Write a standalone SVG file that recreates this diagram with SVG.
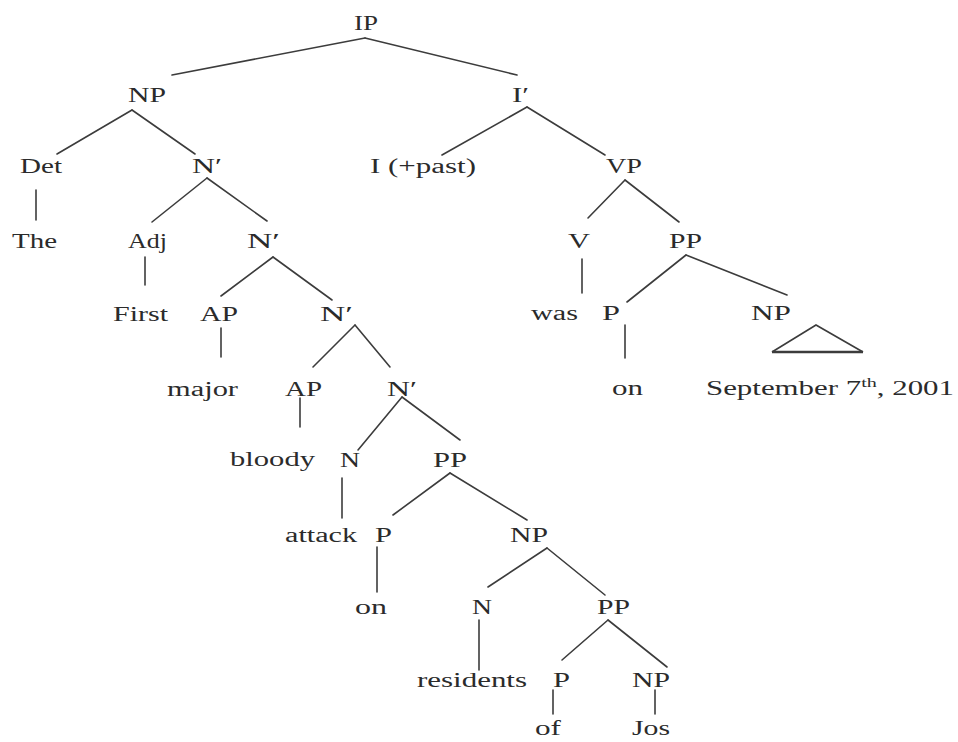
<svg xmlns="http://www.w3.org/2000/svg" width="958" height="742" viewBox="0 0 958 742">
<style>
  text { font-family: "Liberation Serif", "Times New Roman", serif; font-size: 20px; fill: #2b2b2b; }
  .e { stroke: #3c3c3c; stroke-width: 1.6; fill: none; stroke-linecap: round; }
  .tri { stroke: #3c3c3c; stroke-width: 1.6; fill: none; }
  .base { stroke: #3c3c3c; stroke-width: 2.6; }
</style>
<rect width="958" height="742" fill="#ffffff"/>
<g id="connectors">
  <line class="e" x1="365" y1="38" x2="172" y2="75"/>
  <line class="e" x1="365" y1="38" x2="517" y2="75"/>
  <line class="e" x1="132" y1="110" x2="57" y2="154"/>
  <line class="e" x1="132" y1="110" x2="195" y2="154"/>
  <line class="e" x1="527" y1="107" x2="442" y2="155"/>
  <line class="e" x1="527" y1="107" x2="605" y2="155"/>
  <line class="e" x1="36" y1="190" x2="36" y2="220"/>
  <line class="e" x1="207" y1="178" x2="152" y2="222"/>
  <line class="e" x1="207" y1="178" x2="267" y2="221"/>
  <line class="e" x1="625" y1="180" x2="588" y2="218"/>
  <line class="e" x1="625" y1="180" x2="679" y2="222"/>
  <line class="e" x1="145" y1="257" x2="145" y2="285"/>
  <line class="e" x1="273" y1="257" x2="221" y2="296"/>
  <line class="e" x1="273" y1="257" x2="332" y2="300"/>
  <line class="e" x1="582" y1="259" x2="582" y2="293"/>
  <line class="e" x1="686" y1="255" x2="627" y2="302"/>
  <line class="e" x1="686" y1="255" x2="787" y2="295"/>
  <line class="e" x1="221" y1="328" x2="221" y2="357"/>
  <line class="e" x1="355" y1="325" x2="313" y2="367"/>
  <line class="e" x1="355" y1="325" x2="390" y2="367"/>
  <line class="e" x1="625" y1="325" x2="625" y2="358"/>
  <polyline class="tri" points="772,352 816,325 863,352"/>
  <line class="base" x1="772" y1="352" x2="863" y2="352"/>
  <line class="e" x1="300" y1="398" x2="300" y2="427"/>
  <line class="e" x1="402" y1="397" x2="358" y2="450"/>
  <line class="e" x1="402" y1="397" x2="460" y2="440"/>
  <line class="e" x1="342" y1="478" x2="342" y2="518"/>
  <line class="e" x1="450" y1="473" x2="393" y2="515"/>
  <line class="e" x1="450" y1="473" x2="527" y2="520"/>
  <line class="e" x1="377" y1="547" x2="377" y2="592"/>
  <line class="e" x1="547" y1="548" x2="488" y2="587"/>
  <line class="e" x1="547" y1="548" x2="605" y2="595"/>
  <line class="e" x1="479" y1="620" x2="479" y2="670"/>
  <line class="e" x1="608" y1="620" x2="562" y2="660"/>
  <line class="e" x1="608" y1="620" x2="667" y2="667"/>
  <line class="e" x1="553" y1="690" x2="553" y2="714"/>
  <line class="e" x1="655" y1="690" x2="655" y2="714"/>
</g>
<g id="n-IP"><text x="354" y="30" textLength="24" lengthAdjust="spacingAndGlyphs">IP</text></g>
<g id="n-NP1"><text x="128" y="102" textLength="38" lengthAdjust="spacingAndGlyphs">NP</text></g>
<g id="n-Ibar"><text x="512" y="102" textLength="17" lengthAdjust="spacingAndGlyphs">I′</text></g>
<g id="n-Det"><text x="20" y="173" textLength="42" lengthAdjust="spacingAndGlyphs">Det</text></g>
<g id="n-Nbar1"><text x="192" y="173" textLength="30" lengthAdjust="spacingAndGlyphs">N′</text></g>
<g id="n-I"><text x="370" y="173" textLength="106" lengthAdjust="spacingAndGlyphs">I (+past)</text></g>
<g id="n-VP"><text x="606" y="173" textLength="36" lengthAdjust="spacingAndGlyphs">VP</text></g>
<g id="n-The"><text x="12" y="248" textLength="45" lengthAdjust="spacingAndGlyphs">The</text></g>
<g id="n-Adj"><text x="128" y="248" textLength="39" lengthAdjust="spacingAndGlyphs">Adj</text></g>
<g id="n-Nbar2"><text x="247" y="248" textLength="33" lengthAdjust="spacingAndGlyphs">N′</text></g>
<g id="n-V"><text x="568" y="248" textLength="22" lengthAdjust="spacingAndGlyphs">V</text></g>
<g id="n-PP1"><text x="669" y="248" textLength="33" lengthAdjust="spacingAndGlyphs">PP</text></g>
<g id="n-First"><text x="113" y="321" textLength="55" lengthAdjust="spacingAndGlyphs">First</text></g>
<g id="n-AP1"><text x="200" y="321" textLength="38" lengthAdjust="spacingAndGlyphs">AP</text></g>
<g id="n-Nbar3"><text x="320" y="321" textLength="33" lengthAdjust="spacingAndGlyphs">N′</text></g>
<g id="n-was"><text x="531" y="320" textLength="47" lengthAdjust="spacingAndGlyphs">was</text></g>
<g id="n-P1"><text x="602" y="320" textLength="18" lengthAdjust="spacingAndGlyphs">P</text></g>
<g id="n-NP2"><text x="751" y="320" textLength="40" lengthAdjust="spacingAndGlyphs">NP</text></g>
<g id="n-major"><text x="167" y="396" textLength="71" lengthAdjust="spacingAndGlyphs">major</text></g>
<g id="n-AP2"><text x="285" y="396" textLength="37" lengthAdjust="spacingAndGlyphs">AP</text></g>
<g id="n-Nbar4"><text x="387" y="396" textLength="30" lengthAdjust="spacingAndGlyphs">N′</text></g>
<g id="n-on1"><text x="612" y="395" textLength="31" lengthAdjust="spacingAndGlyphs">on</text></g>
<g id="n-date"><text x="706" y="395" textLength="248" lengthAdjust="spacingAndGlyphs">September 7<tspan font-size="13" dy="-8">th</tspan><tspan dy="8">, 2001</tspan></text></g>
<g id="n-bloody"><text x="230" y="466" textLength="85" lengthAdjust="spacingAndGlyphs">bloody</text></g>
<g id="n-N1"><text x="340" y="467" textLength="20" lengthAdjust="spacingAndGlyphs">N</text></g>
<g id="n-PP2"><text x="433" y="467" textLength="34" lengthAdjust="spacingAndGlyphs">PP</text></g>
<g id="n-attack"><text x="285" y="542" textLength="72" lengthAdjust="spacingAndGlyphs">attack</text></g>
<g id="n-P2"><text x="375" y="542" textLength="17" lengthAdjust="spacingAndGlyphs">P</text></g>
<g id="n-NP3"><text x="510" y="542" textLength="38" lengthAdjust="spacingAndGlyphs">NP</text></g>
<g id="n-on2"><text x="355" y="614" textLength="32" lengthAdjust="spacingAndGlyphs">on</text></g>
<g id="n-N2"><text x="472" y="614" textLength="20" lengthAdjust="spacingAndGlyphs">N</text></g>
<g id="n-PP3"><text x="597" y="614" textLength="33" lengthAdjust="spacingAndGlyphs">PP</text></g>
<g id="n-residents"><text x="417" y="687" textLength="110" lengthAdjust="spacingAndGlyphs">residents</text></g>
<g id="n-P3"><text x="553" y="687" textLength="17" lengthAdjust="spacingAndGlyphs">P</text></g>
<g id="n-NP4"><text x="632" y="687" textLength="38" lengthAdjust="spacingAndGlyphs">NP</text></g>
<g id="n-of"><text x="535" y="735" textLength="26" lengthAdjust="spacingAndGlyphs">of</text></g>
<g id="n-Jos"><text x="632" y="735" textLength="38" lengthAdjust="spacingAndGlyphs">Jos</text></g>
</svg>
